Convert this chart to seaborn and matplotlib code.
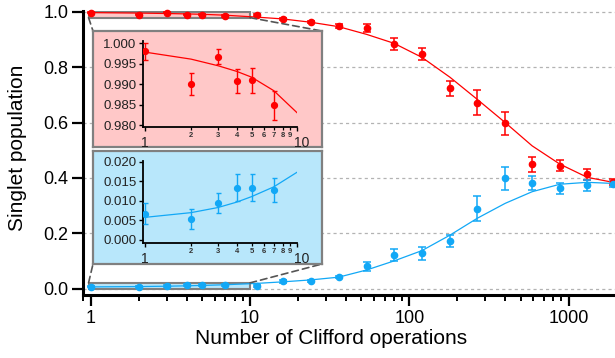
import matplotlib
matplotlib.use("Agg")
import matplotlib.pyplot as plt
import matplotlib.transforms as mtransforms
import seaborn as sns
from matplotlib.patches import Rectangle, ConnectionPatch
from matplotlib.ticker import FixedLocator, FixedFormatter, NullFormatter, FuncFormatter

# Number of Clifford operations in each sequence
clifford_n = [1, 2, 3, 4, 5, 7, 11, 16, 24, 36, 54, 80, 120, 180, 267, 400, 590, 880, 1310, 1900]

# Singlet population, upper branch (red): measured, error, fit
p_upper = [0.998, 0.990, 0.9967, 0.9908, 0.9909, 0.9848, 0.989, 0.975, 0.964, 0.950,
           0.943, 0.883, 0.849, 0.724, 0.672, 0.597, 0.449, 0.444, 0.413, 0.386]
err_upper = [0.002, 0.0026, 0.0018, 0.0029, 0.003, 0.0035, 0.003, 0.005, 0.004, 0.008,
             0.015, 0.022, 0.022, 0.028, 0.045, 0.042, 0.028, 0.02, 0.019, 0.01]
fit_upper = [0.9978, 0.9961, 0.9945, 0.9931, 0.9917, 0.9884, 0.9815, 0.975, 0.963, 0.947,
             0.919, 0.887, 0.836, 0.764, 0.684, 0.600, 0.516, 0.450, 0.402, 0.384]

# Singlet population, lower branch (blue): measured, error, fit
p_lower = [0.0067, 0.0054, 0.0094, 0.0134, 0.0134, 0.0128, 0.008, 0.026, 0.027, 0.043,
           0.081, 0.122, 0.127, 0.172, 0.288, 0.399, 0.383, 0.363, 0.374, 0.377]
err_lower = [0.0027, 0.0025, 0.0026, 0.0034, 0.0034, 0.0031, 0.003, 0.006, 0.005, 0.004,
             0.016, 0.022, 0.023, 0.021, 0.045, 0.042, 0.025, 0.02, 0.02, 0.01]
fit_lower = [0.0058, 0.0070, 0.0083, 0.0097, 0.0111, 0.0136, 0.0184, 0.024, 0.031, 0.041,
             0.067, 0.0995, 0.137, 0.193, 0.254, 0.308, 0.350, 0.377, 0.384, 0.380]

main_yticks = [0.0, 0.2, 0.4, 0.6, 0.8, 1.0]
main_xticks = [1, 10, 100, 1000]
upper_inset_yticks = [0.980, 0.985, 0.990, 0.995, 1.000]
lower_inset_yticks = [0.000, 0.005, 0.010, 0.015, 0.020]
inset_minor_x = [2, 3, 4, 5, 6, 7, 8, 9]
inset_xlim = (0.97, 10)
upper_inset_ylim = (0.9796, 1.0006)
lower_inset_ylim = (-0.0007, 0.0203)

RED = "#FF0000"
BLUE = "#12A8F6"
RED_BG = "#FFC8C8"
BLUE_BG = "#B8E7FB"
FRAME = "#808080"

sns.set_theme(style="ticks")
plt.rcParams["font.family"] = ["Liberation Sans", "DejaVu Sans"]
plt.rcParams["text.color"] = "black"
plt.rcParams["axes.labelcolor"] = "black"
plt.rcParams["xtick.color"] = "black"
plt.rcParams["ytick.color"] = "black"
plt.rcParams["axes.edgecolor"] = "black"

W, H = 615, 358
fig = plt.figure(figsize=(W / 100, H / 100), dpi=100)


def fbox(left, top, right, bottom):
    return [left / W, 1 - bottom / H, (right - left) / W, (bottom - top) / H]


def draw_series(axis, y, err, fit, color, ms, cap, lw_fit, elw, clip):
    sns.lineplot(x=clifford_n, y=fit, ax=axis, color=color, linewidth=lw_fit,
                 sort=False, estimator=None, zorder=2.5)
    axis.errorbar(clifford_n, y, yerr=err, fmt="o", ms=ms, color=color, ecolor=color,
                  elinewidth=elw, capsize=cap, capthick=elw, zorder=3, clip_on=clip)


# ---- main axes ----
ax = fig.add_axes(fbox(83.3, 11, 615, 295))
ax.set_xscale("log")
ax.set_xlim(0.899, 1955)
ax.set_ylim(-0.0235, 1.0036)

ax.yaxis.grid(True, which="major", linestyle=(0, (2.5, 2.5)), color="#b3b3b3", linewidth=0.9)
ax.xaxis.grid(False)
ax.set_axisbelow(True)

# zoom-region markers
for (ylo, yhi), bg in [(upper_inset_ylim, RED_BG), (lower_inset_ylim, BLUE_BG)]:
    ax.add_patch(Rectangle((inset_xlim[0], ylo), inset_xlim[1] - inset_xlim[0], yhi - ylo,
                           facecolor=bg, edgecolor=FRAME, linewidth=1.5, zorder=1.8))

draw_series(ax, p_upper, err_upper, fit_upper, RED, 4.5, 3.2, 0.9, 1.1, False)
draw_series(ax, p_lower, err_lower, fit_lower, BLUE, 4.5, 3.2, 0.9, 1.1, False)

for side in ["top", "right"]:
    ax.spines[side].set_visible(False)
for side in ["left", "bottom"]:
    ax.spines[side].set_linewidth(2.2)
    ax.spines[side].set_color("black")

ax.yaxis.set_major_locator(FixedLocator(main_yticks))
ax.yaxis.set_major_formatter(FuncFormatter(lambda v, p: f"{v:.1f}"))
ax.xaxis.set_major_locator(FixedLocator(main_xticks))
ax.xaxis.set_major_formatter(FuncFormatter(lambda v, p: f"{v:g}"))
ax.xaxis.set_minor_formatter(NullFormatter())
ax.tick_params(axis="y", which="major", direction="out", length=8, width=1.6,
               labelsize=13, pad=2.7)
ax.tick_params(axis="x", which="major", direction="out", length=8, width=1.6,
               labelsize=13, pad=3.0)
ax.tick_params(axis="x", which="minor", direction="out", length=4.5, width=1.4)

ax.set_xlabel("Number of Clifford operations", fontsize=15)
ax.set_ylabel("Singlet population", fontsize=15)
ax.xaxis.set_label_coords(0.466, -0.12)
ax.yaxis.set_label_coords(-0.1065, 0.519)


# ---- insets ----
def make_inset(frame_box, axes_box, bg, ylim, yticks, y, err, fit, color):
    frame = fig.add_axes(fbox(*frame_box), zorder=4)
    frame.set_facecolor(bg)
    frame.set_xticks([])
    frame.set_yticks([])
    for s in frame.spines.values():
        s.set_color(FRAME)
        s.set_linewidth(1.6)

    ins = fig.add_axes(fbox(*axes_box), zorder=5)
    ins.set_facecolor("none")
    ins.set_xscale("log")
    ins.set_xlim(*inset_xlim)
    ins.set_ylim(*ylim)
    draw_series(ins, y, err, fit, color, 4.2, 1.8, 0.9, 1.0, True)
    for side in ["top", "right"]:
        ins.spines[side].set_visible(False)
    for side in ["left", "bottom"]:
        ins.spines[side].set_linewidth(1.3)
        ins.spines[side].set_color("black")
    ins.yaxis.set_major_locator(FixedLocator(yticks))
    ins.yaxis.set_major_formatter(FuncFormatter(lambda v, p: f"{v:.3f}"))
    ins.xaxis.set_major_locator(FixedLocator([1, 10]))
    ins.xaxis.set_major_formatter(FixedFormatter(["1", "10"]))
    ins.xaxis.set_minor_locator(FixedLocator(inset_minor_x))
    ins.xaxis.set_minor_formatter(FixedFormatter([str(v) for v in inset_minor_x]))
    ins.tick_params(axis="y", which="major", direction="out", length=3, width=1.0,
                    labelsize=9.5, pad=2, labelcolor="#222222")
    ins.tick_params(axis="x", which="major", direction="out", length=3, width=1.0,
                    labelsize=10, pad=3.5, labelcolor="#222222")
    ins.tick_params(axis="x", which="minor", direction="out", length=2.5, width=0.9,
                    labelsize=5.5, pad=1.2, labelcolor="#333333")
    for t in ins.xaxis.get_minorticklabels():
        t.set_fontweight("bold")
    ins.grid(False)
    return frame, ins


frame_u, ins_u = make_inset((93, 31, 322, 147), (143.3, 40.7, 297.3, 126.7), RED_BG,
                            upper_inset_ylim, upper_inset_yticks,
                            p_upper, err_upper, fit_upper, RED)
frame_l, ins_l = make_inset((93, 151, 322, 264), (143.3, 160.7, 297.3, 242.7), BLUE_BG,
                            lower_inset_ylim, lower_inset_yticks,
                            p_lower, err_lower, fit_lower, BLUE)

# connector lines from the zoom markers to the inset frames
links = [
    ((inset_xlim[0], upper_inset_ylim[0]), frame_u, (0, 1)),
    ((inset_xlim[1], upper_inset_ylim[0]), frame_u, (1, 1)),
    ((inset_xlim[0], lower_inset_ylim[1]), frame_l, (0, 0)),
    ((inset_xlim[1], lower_inset_ylim[1]), frame_l, (1, 0)),
]
for xyA, frame, xyB in links:
    con = ConnectionPatch(xyA=xyA, coordsA=ax.transData, xyB=xyB, coordsB=frame.transAxes,
                          linestyle=(0, (4, 2.5)), color="#555555", linewidth=1.2, zorder=3.5)
    fig.add_artist(con)

# nudge the "10" label of each inset to the right so it clears the "9"
fig.canvas.draw()
shift = mtransforms.ScaledTranslation(4 / 100, 0, fig.dpi_scale_trans)
for ins in (ins_u, ins_l):
    for tick in ins.xaxis.get_major_ticks():
        if tick.label1.get_text() == "10":
            tick.label1.set_transform(tick.label1.get_transform() + shift)

fig.savefig("out.png", dpi=100)
